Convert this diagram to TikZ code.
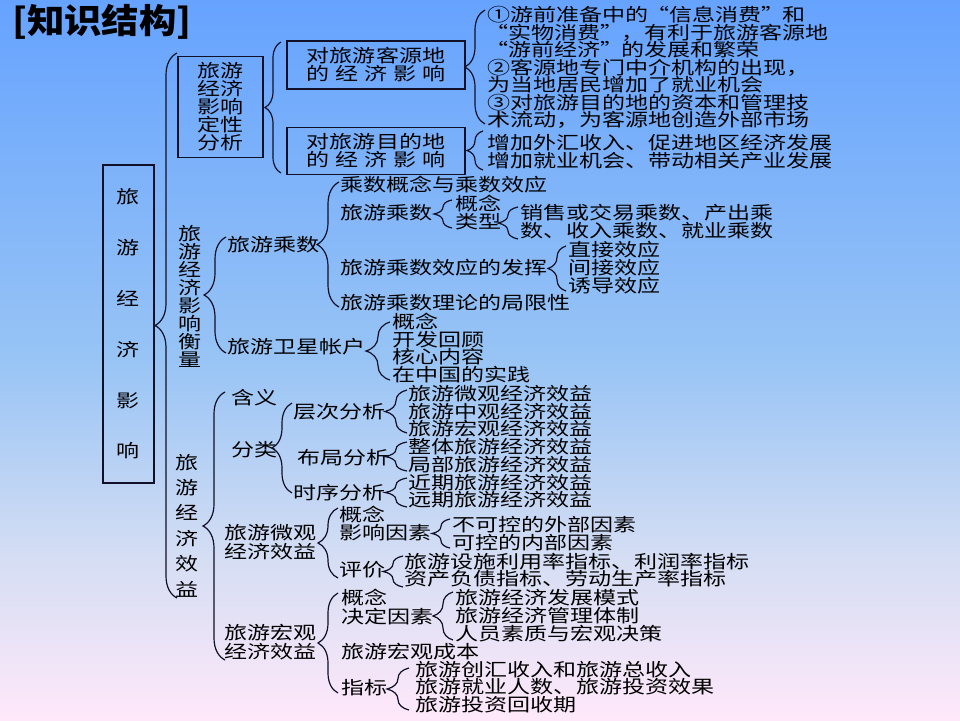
\documentclass[tikz,border=0pt]{standalone}
\usepackage{fontspec}
\usepackage{calc}
\newfontfamily\cjk[FakeStretch=1.28]{Noto Sans CJK SC}
\newfontfamily\cjkt[FakeStretch=1.1]{Noto Sans CJK SC}
\newcommand\qo{\makebox[21pt][r]{“}}
\newcommand\qc{\makebox[21pt][l]{”}}
\usetikzlibrary{decorations.pathreplacing}
\definecolor{bgT}{HTML}{66A3FF}
\definecolor{bgM}{HTML}{98C4F5}
\definecolor{bgL}{HTML}{D6DEF4}
\definecolor{bgB}{HTML}{FFE8FA}
\definecolor{linec}{HTML}{101028}
\pgfdeclareverticalshading{bgshade}{100bp}{color(0bp)=(bgB); color(25bp)=(bgB); color(36bp)=(bgL); color(50bp)=(bgM); color(75bp)=(bgT); color(100bp)=(bgT)}
\tikzset{
  txt/.style={anchor=west, inner sep=0pt, align=left, font=\cjk\fontsize{18pt}{#1pt}\selectfont},
  txt/.default=18,
  vtxt/.style={inner sep=0pt, align=center, font=\cjk\fontsize{18pt}{#1pt}\selectfont},
  boxn/.style={draw=linec, line width=1.4pt, inner sep=0pt, align=center, font=\cjk\fontsize{18pt}{18pt}\selectfont},
  brc/.style={draw=linec, line width=1.2pt, decorate, decoration={brace, amplitude=#1pt}},
}
\begin{document}
\begin{tikzpicture}[x=1pt,y=1pt]
\useasboundingbox (0,-720) rectangle (960,0);
\shade[shading=bgshade] (0,-720) rectangle (960,0);
\begin{scope}[y=-1pt]
% title
\node[anchor=west, inner sep=0pt, font=\cjkt\bfseries\fontsize{34pt}{34pt}\selectfont] (title) at (12,22) {[知识结构]};
% root
\node[boxn, minimum width=51pt, minimum height=318pt, font=\cjk\fontsize{18pt}{50.8pt}\selectfont] (root) at (128.5,324) {旅\\游\\经\\济\\影\\响};
\draw[brc=22] (177,598) -- (177,53);
% qualitative
\node[boxn, minimum width=85pt, minimum height=101pt] (qual) at (220.5,107) {旅游\\经济\\影响\\定性\\分析};
\draw[brc=16] (281,173) -- (281,42);
\node[boxn, minimum width=178pt, minimum height=48pt] (src) at (376,65) {对旅游客源地\\\makebox[\widthof{对旅游客源地}][s]{的 经 济 影 响}};
\node[boxn, minimum width=178pt, minimum height=47pt] (dst) at (376,151) {对旅游目的地\\\makebox[\widthof{对旅游目的地}][s]{的 经 济 影 响}};
\draw[brc=20] (485,124) -- (485,10);
\node[txt=17.5] (srcl) at (487,67.5) {①游前准备中的\qo 信息消费\qc 和\\\qo 实物消费\qc ，有利于旅游客源地\\\qo 游前经济\qc 的发展和繁荣\\②客源地专门中介机构的出现，\\为当地居民增加了就业机会\\③对旅游目的地的资本和管理技\\术流动，为客源地创造外部市场};
\draw[brc=16] (483,170) -- (483,131);
\node[txt=17.5] (dstl) at (487,151.5) {增加外汇收入、促进地区经济发展\\增加就业机会、带动相关产业发展};
% measurement
\node[vtxt=18.1] (meas) at (190,296.5) {旅\\游\\经\\济\\影\\响\\衡\\量};
\draw[brc=22] (226,353) -- (226,237);
\node[txt] (mult) at (227,245) {旅游乘数};
\draw[brc=22] (339,307) -- (339,182);
\node[txt] (m1) at (340,185) {乘数概念与乘数效应};
\node[txt] (m2) at (340,213) {旅游乘数};
\draw[brc=18] (452,228) -- (452,200);
\node[txt=18] (m2l) at (455,213) {概念\\类型};
\draw[brc=20] (518,239) -- (518,207);
\node[txt] (m2t) at (520,222) {销售或交易乘数、产出乘\\数、收入乘数、就业乘数};
\node[txt] (m3) at (340,268) {旅游乘数效应的发挥};
\draw[brc=18] (566,291) -- (566,246);
\node[txt] (m3l) at (568,268) {直接效应\\间接效应\\诱导效应};
\node[txt] (m4) at (340,303) {旅游乘数理论的局限性};
\node[txt] (tsa) at (227,347) {旅游卫星帐户};
\draw[brc=24] (390,380) -- (390,322);
\node[txt=17.7] (tsal) at (392,348) {概念\\开发回顾\\核心内容\\在中国的实践};
% benefit
\node[vtxt=25.4] (ben) at (187,525.5) {旅\\游\\经\\济\\效\\益};
\draw[brc=22] (225,660) -- (225,392);
\node[txt] (b1) at (231,398) {含义};
\node[txt] (b2) at (231,450) {分类};
\draw[brc=20] (292,493) -- (292,403);
\node[txt] (b21) at (293,412) {层次分析};
\node[txt] (b22) at (297,458) {布局分析};
\node[txt] (b23) at (293,493) {时序分析};
\draw[brc=22] (407,433) -- (407,390);
\node[txt=17.5] (b21l) at (408,411.5) {旅游微观经济效益\\旅游中观经济效益\\旅游宏观经济效益};
\draw[brc=22] (407,471) -- (407,442);
\node[txt] (b22l) at (408,456) {整体旅游经济效益\\局部旅游经济效益};
\draw[brc=22] (407,507) -- (407,478);
\node[txt=17] (b23l) at (408,491.5) {近期旅游经济效益\\远期旅游经济效益};
\node[txt=19] (micro) at (224,542.5) {旅游微观\\经济效益};
\draw[brc=20] (338,578) -- (338,508);
\node[txt] (mi1) at (339,515) {概念};
\node[txt] (mi2) at (339,533) {影响因素};
\draw[brc=18] (450,548) -- (450,519);
\node[txt] (mi2l) at (452,534) {不可控的外部因素\\可控的内部因素};
\node[txt] (mi3) at (339,570) {评价};
\draw[brc=20] (403,587) -- (403,556);
\node[txt=17] (mi3l) at (404,570.5) {旅游设施利用率指标、利润率指标\\资产负债指标、劳动生产率指标};
\node[txt=19] (macro) at (224,642.5) {旅游宏观\\经济效益};
\draw[brc=20] (338,693) -- (338,593);
\node[txt] (ma1) at (341,598) {概念};
\node[txt] (ma2) at (341,617) {决定因素};
\draw[brc=20] (453,640) -- (453,592);
\node[txt] (ma2l) at (455,616) {旅游经济发展模式\\旅游经济管理体制\\人员素质与宏观决策};
\node[txt] (ma3) at (341,652) {旅游宏观成本};
\node[txt] (ma4) at (341,688) {指标};
\draw[brc=22] (409,710) -- (409,668);
\node[txt=16.5] (ma4l) at (415,687) {旅游创汇收入和旅游总收入\\旅游就业人数、旅游投资效果\\旅游投资回收期};
\end{scope}
\end{tikzpicture}
\end{document}
